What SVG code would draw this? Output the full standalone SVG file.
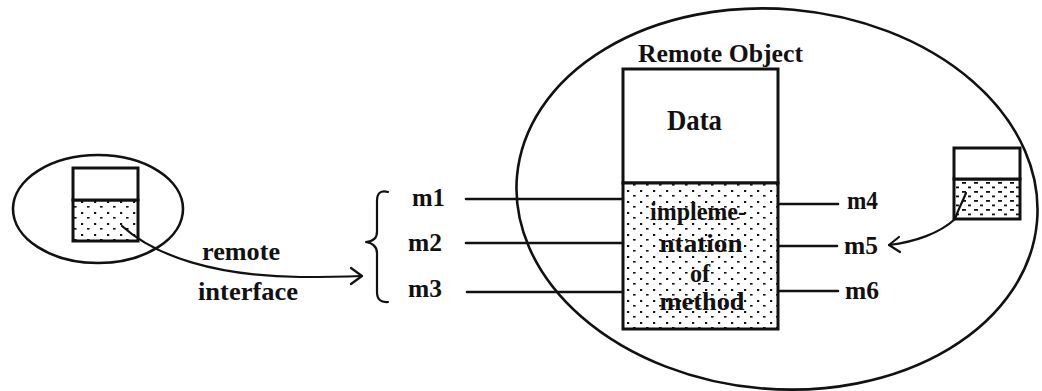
<svg xmlns="http://www.w3.org/2000/svg" width="1042" height="391" viewBox="0 0 1042 391">
  <style>
    .ln { fill: none; stroke: #111; stroke-width: 2.6; stroke-linecap: round; stroke-linejoin: round; }
    .thin { fill: none; stroke: #111; stroke-width: 2.2; stroke-linecap: round; stroke-linejoin: round; }
    .box { fill: #fff; stroke: #111; stroke-width: 3; }
    .dot { fill: url(#dots); stroke: #111; stroke-width: 3; }
    .dash { fill: url(#dashes); stroke: #111; stroke-width: 3; }
    text { font-family: "Liberation Serif", "Times New Roman", serif; font-weight: bold; fill: #111; }
    .lbl { font-size: 26px; }
    .big { font-size: 29px; }
    .inner { font-size: 25px; text-anchor: middle; }
  </style>
  <defs>
    <!-- stipple used for the method sections -->
    <pattern id="dots" width="13" height="11" patternUnits="userSpaceOnUse">
      <rect width="13" height="11" fill="#fff"/>
      <rect x="3" y="3" width="2.2" height="2" fill="#111"/>
      <rect x="9" y="8" width="2.6" height="1.6" fill="#111"/>
    </pattern>
    <pattern id="dashes" width="12" height="9" patternUnits="userSpaceOnUse">
      <rect width="12" height="9" fill="#fff"/>
      <rect x="2" y="2" width="4" height="1.8" fill="#111"/>
      <rect x="8" y="6.5" width="3" height="1.8" fill="#111"/>
    </pattern>
  </defs>

  <!-- client side -->
  <g id="client">
    <ellipse cx="98" cy="209" rx="85" ry="54" class="ln"/>
    <rect x="73" y="200" width="65" height="41" class="dot"/>
    <rect x="73" y="168" width="65" height="32" class="box"/>
  </g>

  <!-- remote object space -->
  <g id="server">
    <ellipse cx="777" cy="199" rx="261" ry="190" transform="rotate(5 777 199)" class="ln"/>
    <text x="638" y="62" class="lbl" textLength="165" lengthAdjust="spacingAndGlyphs">Remote Object</text>
  </g>

  <g id="remote-object">
    <rect x="623" y="69" width="155" height="114" class="box"/>
    <rect x="623" y="183" width="155" height="146" class="dot"/>
    <text x="667" y="130" class="big" textLength="55" lengthAdjust="spacingAndGlyphs">Data</text>
    <text x="698" y="220" class="inner" textLength="96" lengthAdjust="spacingAndGlyphs">impleme-</text>
    <text x="701" y="252" class="inner" textLength="83" lengthAdjust="spacingAndGlyphs">ntation</text>
    <text x="700" y="282" class="inner" textLength="20" lengthAdjust="spacingAndGlyphs">of</text>
    <text x="702" y="310" class="inner" textLength="85" lengthAdjust="spacingAndGlyphs">method</text>
  </g>

  <g id="stub">
    <rect x="954" y="179" width="66" height="40" class="dash"/>
    <rect x="954" y="148" width="66" height="31" class="box"/>
  </g>

  <!-- method labels -->
  <g id="methods">
    <path class="thin" d="M 388,192 Q 377,189 377,201 L 377,232 Q 377,241 366,242 Q 377,244 377,253 L 377,292 Q 377,303 388,302"/>
    <text x="412" y="206" class="lbl" textLength="33" lengthAdjust="spacingAndGlyphs">m1</text>
    <text x="408" y="251" class="lbl" textLength="34" lengthAdjust="spacingAndGlyphs">m2</text>
    <text x="408" y="297" class="lbl" textLength="34" lengthAdjust="spacingAndGlyphs">m3</text>
    <text x="847" y="209" class="lbl" textLength="31" lengthAdjust="spacingAndGlyphs">m4</text>
    <text x="844" y="254" class="lbl" textLength="34" lengthAdjust="spacingAndGlyphs">m5</text>
    <text x="845" y="299" class="lbl" textLength="34" lengthAdjust="spacingAndGlyphs">m6</text>
    <text x="202" y="260" class="lbl" textLength="78" lengthAdjust="spacingAndGlyphs">remote</text>
    <text x="198" y="300" class="lbl" textLength="100" lengthAdjust="spacingAndGlyphs">interface</text>
  </g>

  <!-- connectors -->
  <g id="connectors">
    <path class="ln" d="M 466,199 L 623,199 M 466,243 L 623,243 M 467,292 L 623,292"/>
    <path class="ln" d="M 778,204 L 838,204 M 778,246 L 837,246 M 778,291 L 838,291"/>
    <!-- remote interface reference -->
    <path class="thin" d="M 122,226 C 155,256 215,276 300,277 Q 335,277 362,276"/>
    <path class="thin" d="M 351,268 L 362,276 L 351,284"/>
    <!-- local call into m5 -->
    <path class="thin" d="M 966,193 C 962,203 958,210 955,219 C 940,233 915,242 889,245"/>
    <path class="thin" d="M 899,237 L 889,245 L 900,252"/>
  </g>
</svg>
